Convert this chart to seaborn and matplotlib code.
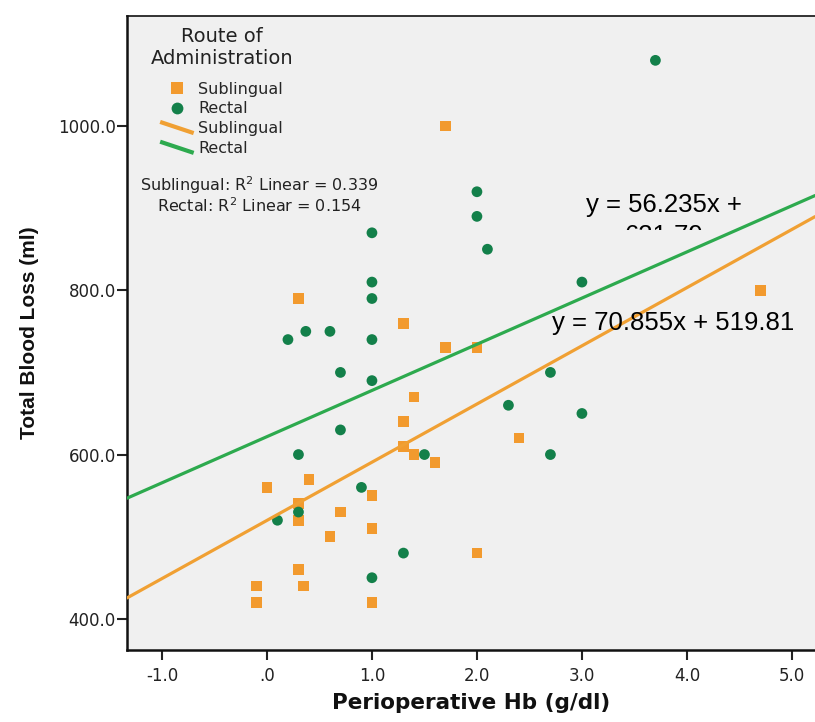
import numpy as np
import pandas as pd
import matplotlib
matplotlib.use("Agg")
import matplotlib.pyplot as plt
import seaborn as sns
from matplotlib.lines import Line2D
from matplotlib.legend_handler import HandlerBase
from matplotlib.transforms import Bbox, TransformedBbox

# data
sub_hb = [1.7, 4.7, 0.3, 1.3, 1.7, 2.0, 1.4, 1.3, 1.3, 1.4, 1.6, 2.4, 0.0,
          0.4, 0.3, 0.3, 0.7, 0.6, 1.0, 1.0, 0.3, 2.0, -0.1, 0.35, -0.1, 1.0]
sub_loss = [1000, 800, 790, 760, 730, 730, 670, 640, 610, 600, 590, 620, 560,
            570, 540, 520, 530, 500, 550, 510, 460, 480, 440, 440, 420, 420]

rec_hb = [3.7, 2.0, 2.0, 2.1, 1.0, 1.0, 1.0, 3.0, 0.37, 0.6, 0.2, 1.0, 0.7,
          1.0, 2.7, 2.3, 3.0, 0.7, 0.3, 1.5, 2.7, 0.9, 0.3, 0.1, 1.0, 1.3]
rec_loss = [1080, 920, 890, 850, 870, 810, 790, 810, 750, 750, 740, 740, 700,
            690, 700, 660, 650, 630, 600, 600, 600, 560, 530, 520, 450, 480]

routes = ["Sublingual", "Rectal"]
slopes = [70.855, 56.235]
intercepts = [519.81, 621.79]
r2 = [0.339, 0.154]

xticks = [-1, 0, 1, 2, 3, 4, 5]
xtick_labels = ["-1.0", ".0", "1.0", "2.0", "3.0", "4.0", "5.0"]
yticks = [400, 600, 800, 1000]
ytick_labels = ["400.0", "600.0", "800.0", "1000.0"]

df = pd.DataFrame({
    "hb": sub_hb + rec_hb,
    "loss": sub_loss + rec_loss,
    "route": ["Sublingual"] * len(sub_hb) + ["Rectal"] * len(rec_hb),
})

orange = "#F29A2E"
dgreen = "#13804A"
lgreen = "#2DAA4E"
line_colors = {"Sublingual": "#F0A033", "Rectal": lgreen}

sns.set_style("ticks")
plt.rcParams["font.family"] = ["DejaVu Sans"]

W, H = 815, 722
fig = plt.figure(figsize=(W / 100, H / 100), dpi=100)
fig.patch.set_facecolor("white")
ax = fig.add_axes([127 / W, (H - 650) / H, (W - 127) / W, (650 - 16) / H])
ax.set_facecolor("#F0F0F0")

sns.scatterplot(data=df, x="hb", y="loss", hue="route", style="route",
                palette={"Sublingual": orange, "Rectal": dgreen},
                markers={"Sublingual": "s", "Rectal": "o"},
                s=60, edgecolor="none", linewidth=0, legend=False, ax=ax)

ax.set_xlim(-1.333, 5.22)
ax.set_ylim(362, 1134)

for r, m, b in zip(routes, slopes, intercepts):
    ax.axline((0, b), slope=m, color=line_colors[r], lw=2.3, zorder=3)

ax.set_xticks(xticks)
ax.set_xticklabels(xtick_labels)
ax.set_yticks(yticks)
ax.set_yticklabels(ytick_labels)
ax.tick_params(axis="both", direction="out", length=7, width=1.5,
               labelsize=12, labelcolor="#222222", color="#222222")
ax.tick_params(axis="x", pad=5)
ax.tick_params(axis="y", pad=1)

for side in ["left", "bottom", "top"]:
    ax.spines[side].set_color("#111111")
ax.spines["left"].set_linewidth(1.8)
ax.spines["bottom"].set_linewidth(1.8)
ax.spines["top"].set_linewidth(1.2)
ax.spines["right"].set_visible(False)

ax.set_xlabel("Perioperative Hb (g/dl)", fontsize=15.5, fontweight="bold",
              labelpad=6, color="#111111")
ax.set_ylabel("Total Blood Loss (ml)", fontsize=15, fontweight="bold",
              family="Liberation Sans", labelpad=14, color="#111111")


class DiagonalLine(HandlerBase):
    def create_artists(self, legend, orig_handle, xdescent, ydescent,
                       width, height, fontsize, trans):
        ln = Line2D([-xdescent, width - xdescent],
                    [height - ydescent, -ydescent],
                    color=orig_handle.get_color(),
                    lw=orig_handle.get_linewidth(),
                    solid_capstyle="butt", transform=trans)
        return [ln]


h_sub = Line2D([], [], marker="s", ls="", color=orange, markersize=8,
               markeredgewidth=0)
h_rec = Line2D([], [], marker="o", ls="", color=dgreen, markersize=8.5,
               markeredgewidth=0)
l_sub = Line2D([], [], color=line_colors["Sublingual"], lw=3)
l_rec = Line2D([], [], color=line_colors["Rectal"], lw=3)

leg = ax.legend([h_sub, h_rec, l_sub, l_rec],
                ["Sublingual", "Rectal", "Sublingual", "Rectal"],
                handler_map={l_sub: DiagonalLine(), l_rec: DiagonalLine()},
                title="Route of\nAdministration", title_fontsize=14,
                fontsize=11.5, frameon=False, loc="upper left",
                bbox_to_anchor=(136 / W, (H - 13) / H),
                bbox_transform=fig.transFigure,
                handlelength=2.1, handletextpad=0.3, labelspacing=0.3,
                borderpad=0.4)
leg._legend_box.sep = 10
leg.get_title().set_color("#222222")
leg.get_title().set_linespacing(1.15)
leg.get_title().set_multialignment("center")

ax.text((259 - 127) / 688, (650 - 194.5) / 634,
        "Sublingual: R$^2$ Linear = %.3f\nRectal: R$^2$ Linear = %.3f" % (r2[0], r2[1]),
        transform=ax.transAxes, ha="center", va="center", multialignment="center",
        fontsize=11.5, linespacing=1.05, color="#222222")

# equation boxes
eq_font = dict(family="Liberation Sans", fontsize=18.5, color="black", ha="center")
ax.text(3.78, 1000 - (212 - 126) / 0.8225, "y = %.3fx +" % slopes[1],
        va="baseline", **eq_font)
t2 = ax.text(3.78, 1000 - (243 - 126) / 0.8225, "%.2f" % intercepts[1],
             va="baseline", **eq_font)
clip_y = 1000 - (230 - 126) / 0.8225
t2.set_clip_box(TransformedBbox(Bbox([[2.5, clip_y], [5.0, 1000]]), ax.transData))
t2.set_clip_on(True)
ax.text(3.87, 1000 - (330 - 126) / 0.8225,
        "y = %.3fx + %.2f" % (slopes[0], intercepts[0]),
        va="baseline", **eq_font)

plt.savefig("out.png", dpi=100, facecolor="white")
